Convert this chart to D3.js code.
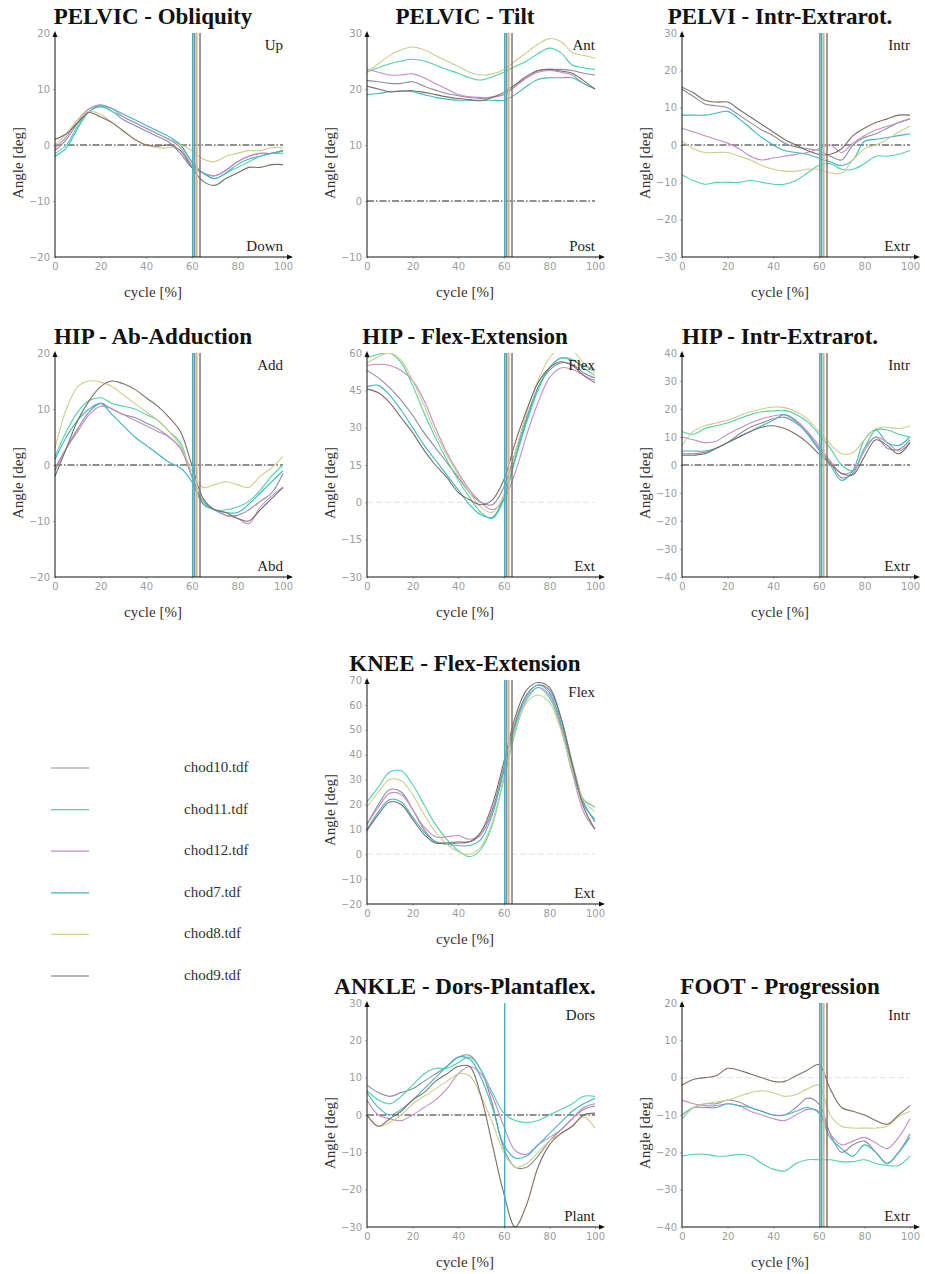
<!DOCTYPE html>
<html>
<head>
<meta charset="utf-8">
<script src="https://cdn.jsdelivr.net/npm/d3@7"></script>
<style>
  html, body { margin: 0; padding: 0; background: #fff; }
  svg { display: block; }
</style>
</head>
<body>
<svg id="chart" width="925" height="1274"></svg>
<script>
// Gait trials and their colours
const trials = ["chod10.tdf", "chod11.tdf", "chod12.tdf", "chod7.tdf", "chod8.tdf", "chod9.tdf"];
const trialColors = ["#8c8c9e", "#4fd3a3", "#c48cc4", "#3fb4c4", "#cdcd8c", "#7d6e62"];
// Toe-off instant (% of cycle) for each trial
const toeOff = [61.2, 61.0, 62.0, 60.4, 62.3, 63.6];

// Samples every 5 % of the gait cycle
const cycle = d3.range(0, 101, 5);
const xTicks = [0, 20, 40, 60, 80, 100];

// Angle curves [deg]; one row per trial, same order as `trials`
const pelvicObliquity = [
  [-1, 1, 4, 6.5, 7, 6, 4.5, 3.5, 2.5, 1.5, 0.5, -1.5, -4, -5, -5.5, -4.5, -3, -2, -1.5, -1.5, -1],
  [-1.5, 0, 3.5, 6, 6.8, 6, 5, 4, 3, 2, 1, 0, -3, -5, -6, -5, -4, -3, -2, -1.5, -1.5],
  [-0.5, 1.5, 4.5, 6.5, 7.2, 6.5, 5, 4, 3, 2, 1, -0.5, -3.5, -5, -5.5, -4.5, -3, -2, -1.5, -1.5, -1],
  [-2, -0.5, 3, 6, 7, 6.5, 5.5, 4.5, 3.5, 2.5, 1.5, 0, -3, -5, -6, -5, -3.5, -2.5, -2, -1.5, -1],
  [0, 2, 4.5, 6, 5.5, 4, 2.5, 1, 0, -0.5, -0.5, 0, -1, -2.5, -3, -2, -1.5, -1, -1, -0.5, -0.5],
  [1, 2, 4, 5.8, 5, 4, 2.5, 1, 0, -0.2, 0, -1, -4, -6.5, -7.2, -6, -5, -4, -4, -3.5, -3.5]
];
const pelvicTilt = [
  [21.5, 21.3, 21, 21, 21.3, 20.5, 19.8, 19.2, 18.8, 18.5, 18.3, 18.6, 19, 20.5, 22, 23.2, 23.5, 23.5, 23.3, 22.8, 22.5],
  [23, 23.8, 24.5, 25, 25.3, 25, 24.3, 23.5, 22.8, 22, 21.6, 22.2, 23, 24, 25, 26.3, 27.3, 26.5, 24.3, 23.8, 23.5],
  [23.5, 23, 22.5, 22.5, 22.7, 22, 21, 20, 19, 18.6, 18.5, 18.5, 19, 20.5, 22, 23, 23.3, 23, 22.5, 21, 20],
  [19, 19.2, 19.5, 19.7, 19.5, 19, 18.5, 18.2, 18, 18, 18, 18, 18, 19, 20.5, 21.7, 22, 22, 22, 21, 20],
  [23, 24.5, 26, 27, 27.5, 27, 26, 25, 24, 23, 22.5, 22.7, 23.5, 25, 26.5, 28, 29, 28.5, 26.5, 26, 25.5],
  [20.5, 20, 19.5, 19.6, 19.7, 19.4, 19, 18.6, 18.3, 18.1, 17.9, 18.5, 19.4, 20.8, 22.3, 23.3, 23.5, 23.2, 22.8, 21.5, 20]
];
const pelvicRotation = [
  [15, 13, 11, 10.5, 10, 8, 6, 4, 2.5, 0.5, -0.5, -1, -1.5, -3, -4, 0, 2, 3, 4.5, 6, 7],
  [-8, -9.5, -10.5, -10, -10, -10, -9.5, -10, -10.5, -10.5, -9.5, -7.5, -5.5, -5, -6.5, -6.5, -5, -3, -3, -2.5, -1.5],
  [4.5, 3.5, 2.5, 1.5, 0.5, -1, -3, -4, -3.5, -3, -2.5, -2, -1, 0, -2, 0.5, 2.5, 4, 5, 6, 7],
  [8, 8, 8, 8.5, 9, 7, 4.5, 2, 0, -1.5, -2, -2.5, -3.5, -4.5, -5.5, -4, 1, 1.5, 2, 2.5, 3],
  [1, -1, -2, -2, -2, -3, -4, -5.5, -6.5, -7, -7, -6.5, -6.5, -7.5, -7.5, -4, -1, 0, 1.5, 3.5, 5],
  [15.5, 14, 12, 11.5, 11.5, 9.5, 7.5, 5.5, 3.5, 1.5, 0, -1.5, -2.5, -2.5, -1, 2.5, 4.5, 6, 7, 8, 8]
];
const hipAbAdduction = [
  [-1, 3, 6.5, 9.5, 11, 10, 9, 8.5, 7.5, 6.5, 5, 3, -2, -6.5, -8, -9, -9, -8, -6.5, -5, -1.5],
  [1.5, 6, 9.5, 11.5, 12, 11, 10.5, 10, 9, 8, 6, 4, -2, -6.5, -8, -8, -7.5, -6.5, -4.5, -2, 0],
  [-0.5, 3, 6, 9, 10.5, 10, 9, 8, 7, 6, 5, 3, -2, -7, -8, -9, -9.5, -10.5, -7.5, -5.5, -4],
  [1, 5, 8, 10, 11, 9, 7, 5, 3.5, 2, 0.5, -0.5, -3, -7, -8, -8.5, -8.5, -7, -5, -3, -1],
  [3, 10, 14, 15, 14.8, 14, 12.5, 11, 9.5, 8, 6, 3.5, -1, -4, -3.5, -3, -3.5, -4, -2, -0.5, 1.5],
  [-2, 3, 8, 11.5, 14, 15, 14.5, 13.5, 12, 10.5, 8.5, 6, 0, -6, -8, -8.5, -9.5, -10, -8, -6, -4]
];
const hipFlexExtension = [
  [53, 50, 46, 41, 35, 28, 22, 16, 10, 4, 0, -1, 6, 20, 34, 46, 53, 56, 55.5, 52, 50],
  [58, 59.5, 60, 56, 47, 36, 26, 17, 9, 2, -4, -6.5, 1, 17, 32, 45, 54, 58, 57.5, 54, 51],
  [55, 55.5, 55, 53, 49, 41, 30, 20, 12, 5, 0, -3, 1, 12, 27, 40, 50, 54, 53.5, 51, 49],
  [46.5, 47, 43, 37, 30, 23, 17, 11, 5, -1, -5, -6, 2, 18, 33, 46, 54, 58, 57, 55, 53],
  [56, 58.5, 60, 57, 49, 39, 28, 19, 11, 4, -2, -4, 3, 20, 36, 49, 58, 62, 61, 56, 52],
  [45.5, 44, 40, 34, 28, 21, 15, 10, 4, 1, -1, 1, 9, 24, 37, 48, 54, 56.5, 55, 51, 48]
];
const hipRotation = [
  [4, 4, 4.5, 6, 8, 11, 13.5, 15, 16.5, 17, 15, 11.5, 6, 1, -4.5, -3, 6, 10, 6, 5.5, 9],
  [12, 11, 13, 14, 15, 16.5, 18, 19, 19.3, 19.5, 18, 15.5, 11, 6, 0, -2, 6, 12.5, 12.5, 11, 10],
  [10, 9, 8, 8.5, 11, 13, 15, 16.5, 17.5, 18, 16, 12, 7, 1.5, -3, -2, 5, 10, 8, 5, 8],
  [5, 5, 5, 6, 8, 10, 12, 14, 16, 18, 15.5, 11, 5.5, 0, -5.5, -2, 9, 12.5, 8, 7, 10],
  [7, 12, 14, 15, 16, 17.5, 19, 20, 20.7, 20.5, 19, 16.5, 12, 7.5, 4, 4.5, 9, 13, 13.5, 13, 14],
  [3.5, 3.5, 4, 6, 8, 10, 12, 13.5, 14, 13, 11, 8, 4, 0.5, -3, -3.5, 3, 9, 7, 4, 8]
];
const kneeFlexExtension = [
  [12, 20, 26, 25, 18, 10, 5, 4.5, 5, 5, 8, 18, 35, 53, 64, 68, 66, 55, 37, 21, 13],
  [21, 27, 33, 33.5, 28, 20, 12, 6, 1.5, -1, 2, 12, 30, 49, 62, 67, 63, 51, 33, 22, 19],
  [12, 19, 24.5, 24, 18, 11, 7, 7, 7.5, 6, 8, 17, 33, 51, 63, 67, 64, 52, 33, 17, 10],
  [10, 17, 22, 21, 15, 9, 5, 4, 3.5, 3.5, 6, 16, 34, 52, 64, 68, 65, 53, 35, 20, 14],
  [19, 25, 30, 29.5, 24, 16, 9, 4, 1, 0, 3, 13, 31, 50, 61, 64, 61, 50, 34, 22, 17],
  [9.5, 16, 21, 20, 14, 8, 4.5, 4.5, 4.5, 5, 9, 20, 37, 55, 66, 69, 67, 55, 36, 19, 10]
];
const ankleDorsPlantar = [
  [8, 6, 5, 6, 7, 9, 11, 13, 15.5, 16, 12, 3, -9, -14, -14, -11, -7, -4, -1, 1.5, 2.5],
  [6.5, 4, 3, 5, 8, 11, 12.5, 12.5, 14, 15.5, 12, 6, 0.5, -1.5, -2, -1.5, 0, 1.5, 3, 5, 5],
  [4, 0, -1, -1.5, 0, 2, 4, 7, 11, 13, 11, 5, -3, -9.5, -10.5, -8, -6, -4, -1, 2, 3],
  [6, 2, 0, 1.5, 4, 7, 10, 13, 15.5, 15, 10, 2, -8, -11.5, -11, -8, -5, -2, 1, 3, 4.5],
  [0, -3, -2, 0, 3, 5, 7, 9, 11, 10.5, 5, -2, -10, -14, -13, -10, -7, -5, -3, -0.5, -3.5],
  [0, -3, -1, 1, 4, 6, 9, 11, 13, 13, 5, -8, -21, -30, -24, -14, -8, -5, -3, 0, 0.5]
];
const footProgression = [
  [-11, -8, -7, -7, -6, -6.5, -8, -9, -10, -10, -8, -5.5, -7, -15, -20, -18, -17, -20, -23, -20, -15],
  [-21, -20.5, -20.5, -21, -21, -20.5, -21, -23, -24.5, -25, -23, -22, -22, -22, -22.5, -22.5, -22, -23, -23.5, -23.5, -21],
  [-6, -7, -7.5, -7.5, -7, -7.5, -9, -10, -11, -11.5, -10, -8.5, -9, -15, -18, -17, -16, -17.5, -19, -16, -11],
  [-10, -8, -8, -8, -7, -7.5, -8, -9, -10, -10, -9, -8, -9.5, -16, -19, -21, -18, -20, -23, -20, -16],
  [-11, -8, -7, -6.5, -6, -5, -4, -3.5, -4, -5, -4.5, -3, -2, -10, -13, -13.5, -13.5, -13.5, -13, -10.5, -9],
  [-2, -0.5, 0, 0.5, 2.5, 2, 1, 0, -1, -1, 0.5, 2, 3.5, -3, -8, -9, -10, -11.5, -12.5, -10, -7.5]
];

// Panel titles, y ticks and direction words
const panelTitles = ["PELVIC - Obliquity", "PELVIC - Tilt", "PELVI - Intr-Extrarot.",
  "HIP - Ab-Adduction", "HIP - Flex-Extension", "HIP - Intr-Extrarot.",
  "KNEE - Flex-Extension", "ANKLE - Dors-Plantaflex.", "FOOT - Progression"];
const panelData = [pelvicObliquity, pelvicTilt, pelvicRotation, hipAbAdduction,
  hipFlexExtension, hipRotation, kneeFlexExtension, ankleDorsPlantar, footProgression];
const panelYTicks = [
  [-20, -10, 0, 10, 20],
  [-10, 0, 10, 20, 30],
  [-30, -20, -10, 0, 10, 20, 30],
  [-20, -10, 0, 10, 20],
  [-30, -15, 0, 15, 30, 45, 60],
  [-40, -30, -20, -10, 0, 10, 20, 30, 40],
  [-20, -10, 0, 10, 20, 30, 40, 50, 60, 70],
  [-30, -20, -10, 0, 10, 20, 30],
  [-40, -30, -20, -10, 0, 10, 20]
];
const panelUpper = ["Up", "Ant", "Intr", "Add", "Flex", "Intr", "Flex", "Dors", "Intr"];
const panelLower = ["Down", "Post", "Extr", "Abd", "Ext", "Extr", "Ext", "Plant", "Extr"];

// Layout
const colX = [55, 367, 682];
const rowTop = [33, 353, 680, 1003];
const plotW = 228, plotH = 224;
const panelCell = [[0, 0], [1, 0], [2, 0], [0, 1], [1, 1], [2, 1], [1, 2], [1, 3], [2, 3]];
// zero reference drawn dark dash-dot, or as a faint grey line
const zeroDark = [true, true, true, true, false, true, false, true, false];
// toe-off markers shown in each panel (trial indices)
const toeOffShown = [[3, 1, 0, 2, 4, 5], [3, 1, 0, 2, 4, 5], [3, 1, 0, 2, 4, 5],
  [3, 1, 0, 2, 4, 5], [3, 1, 0, 2, 4, 5], [3, 1, 0, 2, 4, 5],
  [3, 1, 0, 2, 4, 5], [3], [3, 1, 0, 2, 4, 5]];

const serif = "'Liberation Serif', 'Times New Roman', serif";
const svg = d3.select("#chart");
const defs = svg.append("defs");

panelTitles.forEach((title, p) => {
  const [c, r] = panelCell[p];
  const x0 = colX[c], y0 = rowTop[r];
  const ticks = panelYTicks[p];
  const g = svg.append("g").attr("transform", `translate(${x0},${y0})`);

  const x = d3.scaleLinear().domain([0, 100]).range([0, plotW]);
  const y = d3.scaleLinear().domain(d3.extent(ticks)).range([plotH, 0]);

  defs.append("clipPath").attr("id", "clip" + p)
    .append("rect").attr("x", 0).attr("y", 0).attr("width", plotW + 1).attr("height", plotH);

  // title
  svg.append("text")
    .attr("x", x0 + 98).attr("y", y0 - 9)
    .attr("text-anchor", "middle")
    .attr("font-family", serif).attr("font-weight", "bold").attr("font-size", 23)
    .attr("fill", "#111")
    .text(title);

  // y axis ticks
  const yAxis = d3.axisLeft(y).tickValues(ticks).tickSize(2).tickPadding(3).tickFormat(d3.format("d"));
  const ya = g.append("g").call(yAxis);
  ya.select(".domain").remove();
  ya.selectAll("line").attr("stroke", "#bbb");
  ya.selectAll("text").attr("font-family", "'DejaVu Sans', sans-serif").attr("font-size", 10).attr("fill", "#9c9c9c");

  // x axis ticks
  const xAxis = d3.axisBottom(x).tickValues(xTicks).tickSize(2).tickPadding(4).tickFormat(d3.format("d"));
  const xa = g.append("g").attr("transform", `translate(0,${plotH})`).call(xAxis);
  xa.select(".domain").remove();
  xa.selectAll("line").attr("stroke", "#bbb");
  xa.selectAll("text").attr("font-family", "'DejaVu Sans', sans-serif").attr("font-size", 10).attr("fill", "#9c9c9c");

  // zero reference line
  const zl = g.append("line")
    .attr("x1", 0).attr("x2", plotW).attr("y1", y(0)).attr("y2", y(0));
  if (zeroDark[p]) {
    zl.attr("stroke", "#222").attr("stroke-width", 1).attr("stroke-dasharray", "7,2,1.5,2");
  } else {
    zl.attr("stroke", "#e2e2e2").attr("stroke-width", 1).attr("stroke-dasharray", "6,3");
  }

  // curves
  const line = d3.line()
    .x((d, i) => x(cycle[i]))
    .y(d => y(d))
    .curve(d3.curveCatmullRom.alpha(0.5));
  const curves = g.append("g").attr("clip-path", `url(#clip${p})`);
  panelData[p].forEach((vals, t) => {
    curves.append("path")
      .attr("d", line(vals))
      .attr("fill", "none")
      .attr("stroke", trialColors[t])
      .attr("stroke-width", 1.1);
  });

  // toe-off markers
  toeOffShown[p].forEach(t => {
    g.append("line")
      .attr("x1", x(toeOff[t])).attr("x2", x(toeOff[t]))
      .attr("y1", 0).attr("y2", plotH)
      .attr("stroke", trialColors[t]).attr("stroke-width", 1.4);
  });

  // axes with arrow heads
  g.append("line").attr("x1", 0).attr("x2", 0).attr("y1", plotH).attr("y2", 0)
    .attr("stroke", "#111").attr("stroke-width", 1);
  g.append("line").attr("x1", 0).attr("x2", plotW + 5).attr("y1", plotH).attr("y2", plotH)
    .attr("stroke", "#111").attr("stroke-width", 1);
  g.append("path").attr("d", `M-2.5,4 L0,-2 L2.5,4 Z`).attr("fill", "#111");
  g.append("path").attr("d", `M${plotW + 4},${plotH - 2.5} L${plotW + 10},${plotH} L${plotW + 4},${plotH + 2.5} Z`).attr("fill", "#111");

  // direction words
  g.append("text").attr("x", plotW).attr("y", 17).attr("text-anchor", "end")
    .attr("font-family", serif).attr("font-size", 15).attr("fill", "#222").text(panelUpper[p]);
  g.append("text").attr("x", plotW).attr("y", plotH - 6).attr("text-anchor", "end")
    .attr("font-family", serif).attr("font-size", 15).attr("fill", "#222").text(panelLower[p]);

  // axis titles
  g.append("text")
    .attr("transform", `translate(-32,${plotH / 2 + 18}) rotate(-90)`)
    .attr("text-anchor", "middle")
    .attr("font-family", serif).attr("font-size", 15).attr("fill", "#333")
    .text("Angle [deg]");
  g.append("text")
    .attr("x", 98).attr("y", plotH + 40)
    .attr("text-anchor", "middle")
    .attr("font-family", serif).attr("font-size", 15).attr("fill", "#333")
    .text("cycle [%]");
});

// legend
const legend = svg.append("g");
trials.forEach((name, t) => {
  const ly = 768 + t * 41.6;
  legend.append("line").attr("x1", 51).attr("x2", 89).attr("y1", ly).attr("y2", ly)
    .attr("stroke", trialColors[t]).attr("stroke-width", 1.2);
  legend.append("text").attr("x", 184).attr("y", ly + 4)
    .attr("font-family", serif).attr("font-size", 15).attr("fill", "#333").text(name);
});
</script>
</body>
</html>
